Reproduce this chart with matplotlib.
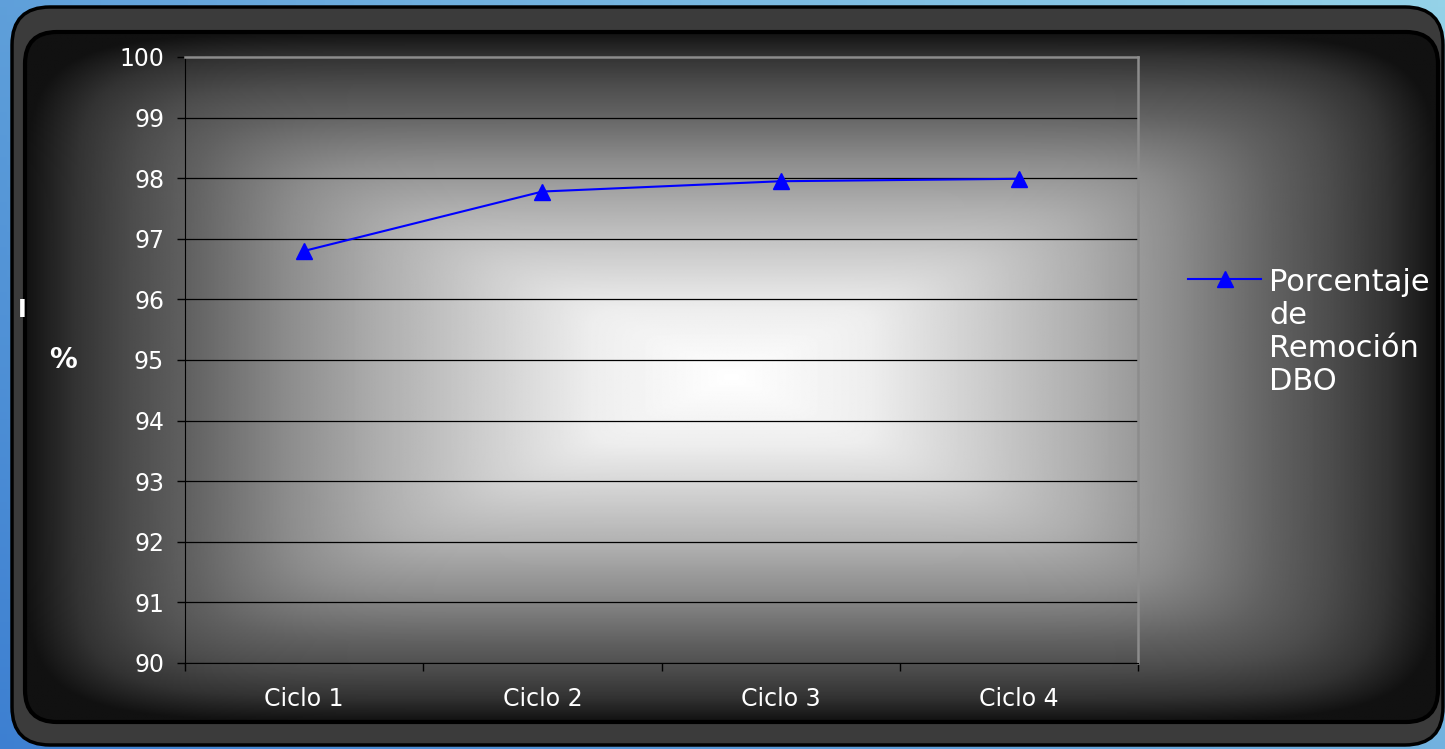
import numpy as np
import matplotlib
matplotlib.use("Agg")
import matplotlib.pyplot as plt
from matplotlib.patches import FancyBboxPatch

# datos de remocion de DBO por ciclo
ciclos = ["Ciclo 1", "Ciclo 2", "Ciclo 3", "Ciclo 4"]
remocion = [96.8, 97.78, 97.95, 97.99]
y_ticks = [90, 91, 92, 93, 94, 95, 96, 97, 98, 99, 100]
serie = "Porcentaje\nde\nRemoción\nDBO"

W, H = 1445, 749
fig = plt.figure(figsize=(W / 100, H / 100), dpi=100)

# fondo: axes en pixeles sobre toda la figura
bg = fig.add_axes([0, 0, 1, 1], zorder=0)
bg.set_xlim(0, W)
bg.set_ylim(H, 0)
bg.axis("off")

# fondo azul de la diapositiva
gx, gy = np.meshgrid(np.linspace(0, 1, 200), np.linspace(0, 1, 100))
c1 = np.array([0.24, 0.50, 0.82])
c2 = np.array([0.62, 0.86, 0.92])
mix = np.clip(0.55 * gx + 0.35 * (1 - gy), 0, 1)[..., None]
azul = c1 * (1 - mix) + c2 * mix
bg.imshow(azul, extent=(0, W, H, 0), aspect="auto", zorder=0)

# marco exterior
marco = FancyBboxPatch((12, 7), 1431, 738, boxstyle="round,pad=0,rounding_size=38",
                       fc="#3b3b3b", ec="black", lw=2.5, zorder=1)
bg.add_patch(marco)

# panel interior con degradado desde el centro (norma p para suavizar las diagonales)
x0, x1, y0, y1 = 25, 1438, 32, 722
px, py = np.meshgrid(np.linspace(x0, x1, 1000), np.linspace(y0, y1, 500))
cx, cy = (x0 + x1) / 2, (y0 + y1) / 2
p = 9
u = np.abs(px - cx) / ((x1 - x0) / 2)
v = np.abs(py - cy) / ((y1 - y0) / 2)
t = np.clip((u ** p + v ** p) ** (1 / p), 0, 1)
gris = np.interp(t, [0, 0.2, 0.36, 0.5, 0.63, 0.77, 0.85, 0.93, 1.0],
                 [1.0, 0.93, 0.8, 0.68, 0.55, 0.38, 0.3, 0.2, 0.07])
panel = FancyBboxPatch((x0, y0), x1 - x0, y1 - y0, boxstyle="round,pad=0,rounding_size=32",
                       fc="none", ec="black", lw=3, zorder=3)
bg.add_patch(panel)
im = bg.imshow(gris, cmap="gray", vmin=0, vmax=1, extent=(x0, x1, y1, y0),
               aspect="auto", zorder=2, interpolation="bilinear")
im.set_clip_path(panel)

# grafico principal
ax = fig.add_axes([185 / W, 1 - 663 / H, 953 / W, 606 / H], zorder=2)
ax.set_facecolor("none")
x = np.arange(len(ciclos))
ax.plot(x, remocion, color="#0000ff", lw=1.5, marker="^", ms=12, label=serie, zorder=4)

ax.set_ylim(90, 100)
ax.set_yticks(y_ticks)
ax.set_xlim(-0.5, len(ciclos) - 0.5)
ax.set_xticks(np.arange(len(ciclos) + 1) - 0.5)
ax.set_xticklabels([])
ax.set_xticks(x, minor=True)
ax.set_xticklabels(ciclos, minor=True)
ax.grid(axis="y", color="black", lw=0.9)

ax.tick_params(axis="y", colors="black", labelcolor="white", labelsize=17,
               length=6, width=1, direction="out", pad=9)
ax.tick_params(axis="x", which="major", colors="black", length=6, width=1, direction="out")
ax.tick_params(axis="x", which="minor", length=0, labelcolor="white", labelsize=17, pad=17)

ax.spines["left"].set_color("black")
ax.spines["bottom"].set_color("black")
ax.spines["top"].set_color("#8c8c8c")
ax.spines["right"].set_color("#8c8c8c")
for s in ["top", "right"]:
    ax.spines[s].set_linewidth(1.8)

fig.text(63 / W, 1 - 360 / H, "%", color="white", fontsize=20, fontweight="bold",
         ha="center", va="center")
fig.text(22 / W, 1 - 310 / H, "I", color="white", fontsize=17, fontweight="bold",
         ha="center", va="center")

leg = ax.legend(loc="upper left", bbox_to_anchor=(1188 / W, 1 - 268 / H),
                bbox_transform=fig.transFigure, frameon=False, fontsize=22,
                handlelength=2.4, handletextpad=0.25, borderpad=0, borderaxespad=0,
                labelcolor="white")
leg.get_texts()[0].set_linespacing(1.17)
# la muestra de la leyenda va a la altura de la primera linea del texto
h = leg.legend_handles[0]
h.set_ydata(np.asarray(h.get_ydata()) + 1.5 * 1.17 * 22)

fig.savefig("out.png", dpi=100)
